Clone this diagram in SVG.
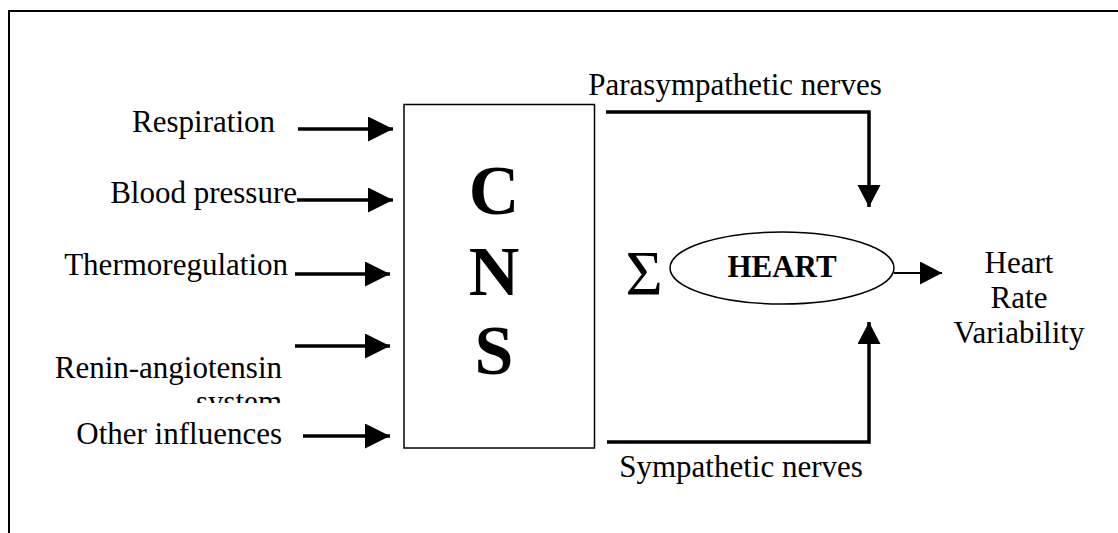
<svg xmlns="http://www.w3.org/2000/svg" width="1118" height="533" viewBox="0 0 1118 533">
<style>
.t{font-family:"Liberation Serif","Times New Roman",serif;font-size:31px;fill:#000}
.b{font-family:"Liberation Serif","Times New Roman",serif;font-weight:bold;fill:#000}
.sig{font-family:"Liberation Serif","Times New Roman",serif;font-size:64px;fill:#000}
.ln{stroke:#000;fill:none}
</style>
<defs>
<marker id="ah" markerUnits="userSpaceOnUse" markerWidth="26" markerHeight="26" refX="25" refY="12.5" orient="auto"><path d="M0,0 L25,12.5 L0,25 Z" fill="#000"/></marker>
<marker id="as" markerUnits="userSpaceOnUse" markerWidth="24" markerHeight="24" refX="22" refY="11.5" orient="auto"><path d="M0,0 L22,11.5 L0,23 Z" fill="#000"/></marker>
<clipPath id="clipSys"><rect x="0" y="380" width="400" height="23"/></clipPath>
</defs>
<rect width="1118" height="533" fill="#fff"/>
<path class="ln" d="M9,533 V11 H1118" stroke-width="2"/>

<g id="respiration"><text class="t" x="275" y="132" text-anchor="end">Respiration</text></g>
<g id="blood-pressure"><text class="t" x="297" y="203" text-anchor="end">Blood pressure</text></g>
<g id="thermoregulation"><text class="t" x="288" y="275" text-anchor="end">Thermoregulation</text></g>
<g id="renin"><text class="t" x="282" y="378" text-anchor="end">Renin-angiotensin</text><text class="t" x="282" y="412" text-anchor="end" clip-path="url(#clipSys)">system</text></g>
<g id="other"><text class="t" x="282" y="444" text-anchor="end">Other influences</text></g>

<g id="cns"><rect x="404" y="104.5" width="190.5" height="343.5" fill="none" stroke="#000" stroke-width="1.5"/>
<text class="b" x="494" y="214" font-size="70" text-anchor="middle">C</text>
<text class="b" x="494" y="295" font-size="70" text-anchor="middle">N</text>
<text class="b" x="494" y="374" font-size="70" text-anchor="middle">S</text></g>

<g id="sigma"><text class="sig" x="644" y="295" text-anchor="middle">Σ</text></g>

<g id="heart"><ellipse cx="782" cy="268" rx="112" ry="36" fill="none" stroke="#000" stroke-width="1.5"/>
<text class="b" x="782" y="277" font-size="31" text-anchor="middle">HEART</text></g>

<g id="hrv"><text class="t" x="1019" y="273" text-anchor="middle">Heart</text><text class="t" x="1019" y="308" text-anchor="middle">Rate</text><text class="t" x="1019" y="343" text-anchor="middle">Variability</text></g>

<g id="para-label"><text class="t" x="735" y="95" text-anchor="middle">Parasympathetic nerves</text></g>
<g id="sym-label"><text class="t" x="741" y="477" text-anchor="middle">Sympathetic nerves</text></g>

<g id="connectors" stroke="#000" fill="none">
<line x1="298" y1="129" x2="393" y2="129" stroke-width="3.5" marker-end="url(#ah)"/>
<line x1="297" y1="200" x2="393" y2="200" stroke-width="3.5" marker-end="url(#ah)"/>
<line x1="295" y1="274" x2="390" y2="274" stroke-width="3.5" marker-end="url(#ah)"/>
<line x1="295" y1="346" x2="390" y2="346" stroke-width="3.5" marker-end="url(#ah)"/>
<line x1="303" y1="436" x2="390" y2="436" stroke-width="3.5" marker-end="url(#ah)"/>
<path d="M606,112 H869 V207" stroke-width="3.5" marker-end="url(#as)"/>
<path d="M607,442 H869 V322" stroke-width="3.5" marker-end="url(#as)"/>
<line x1="894" y1="273" x2="942" y2="273" stroke-width="2" marker-end="url(#as)"/>
</g>
</svg>
